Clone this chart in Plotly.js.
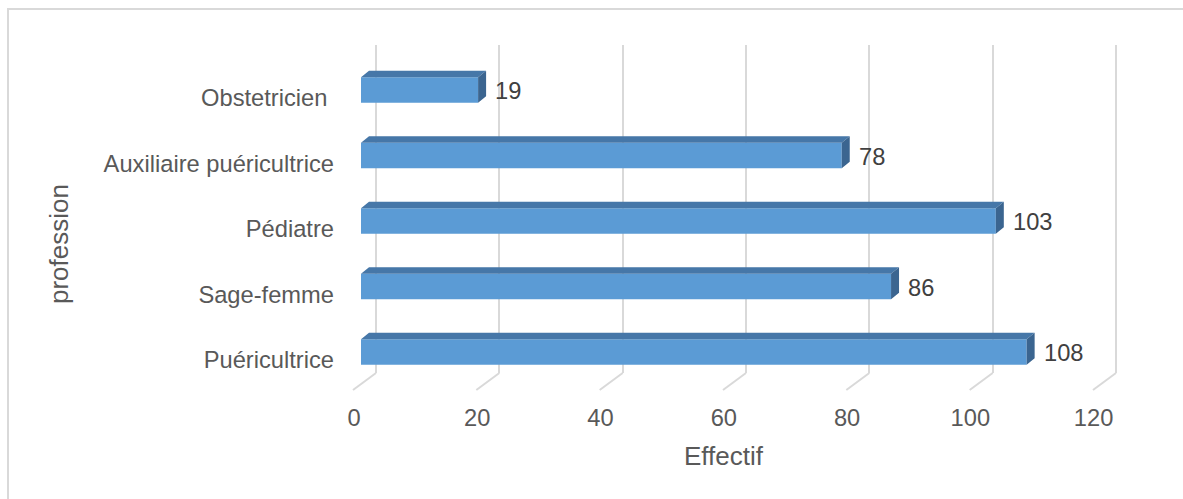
<!DOCTYPE html>
<html>
<head>
<meta charset="utf-8">
<script src="https://cdn.plot.ly/plotly-3.0.1.min.js"></script>
<style>
  html, body { margin: 0; padding: 0; background: #ffffff; }
  #chart { width: 1183px; height: 499px; }
</style>
</head>
<body>
<div id="chart"></div>
<script>
// Effectif par profession (bottom to top)
const professions = ['Puéricultrice', 'Sage-femme', 'Pédiatre', 'Auxiliaire puéricultrice', 'Obstetricien '];
const effectifs = [108, 86, 103, 78, 19];
const xTicks = [0, 20, 40, 60, 80, 100, 120];

const W = 1183, H = 499;
const TXT = '#595959';
const GRID = '#d9d9d9';
const FONT = 'Liberation Sans, Arial, sans-serif';

// Front plane (bars) and back wall (gridlines) geometry in pixels
const front = { x0: 361, x1: 1100.6, yTop: 57.25, yBot: 384.75 };
const back = { x0: 376, x1: 1116, yTop: 45, yBot: 373 };
const xMax = 120;
const pxPerUnit = (front.x1 - front.x0) / xMax;
const pxPerCat = (front.yBot - front.yTop) / professions.length;

// the back-wall axis is padded so its edge gridlines and floor lines are not clipped
const pad = 5;
const backPx = (back.x1 - back.x0) / xMax;

// Depth of each bar (top and side faces), in pixels
const depthX = 8, depthY = 6.5;
const dxU = depthX / pxPerUnit;
const dyU = depthY / pxPerCat;
const barW = 0.39, half = barW / 2;

const idx = professions.map((_, i) => i);

// Top and side faces of the 3D bars, built from the values
const topX = [], topY = [], sideX = [], sideY = [];
effectifs.forEach((v, i) => {
  const yt = i + half, yb = i - half;
  topX.push(0, dxU, v + dxU, v, 0, null);
  topY.push(yt, yt + dyU, yt + dyU, yt, yt, null);
  sideX.push(v, v + dxU, v + dxU, v, v, null);
  sideY.push(yt, yt + dyU, yb + dyU, yb, yt, null);
});

const traces = [
  // back wall subplot (holds only the gridlines)
  { type: 'scatter', x: [], y: [], xaxis: 'x', yaxis: 'y', hoverinfo: 'skip', showlegend: false },
  { type: 'scatter', mode: 'none', x: topX, y: topY, fill: 'toself', fillcolor: '#4677a8',
    xaxis: 'x2', yaxis: 'y2', hoverinfo: 'skip', showlegend: false },
  { type: 'scatter', mode: 'none', x: sideX, y: sideY, fill: 'toself', fillcolor: '#3b6590',
    xaxis: 'x2', yaxis: 'y2', hoverinfo: 'skip', showlegend: false },
  { type: 'bar', orientation: 'h', x: effectifs, y: idx, width: barW,
    marker: { color: '#5b9bd5', line: { width: 0 } },
    xaxis: 'x2', yaxis: 'y2', hoverinfo: 'skip', showlegend: false }
];

// floor lines from the foot of each gridline towards the front labels
const floorDx = 23 / backPx;
const shapes = xTicks.map(t => ({
  type: 'line', xref: 'x', yref: 'paper',
  x0: t, x1: t - floorDx,
  y0: 1 - back.yBot / H, y1: 1 - (back.yBot + 17) / H,
  line: { color: GRID, width: 2 }
}));
// chart area border
shapes.push({
  type: 'rect', xref: 'paper', yref: 'paper',
  x0: 8 / W, x1: 1.02, y0: -0.05, y1: 1 - 9 / H,
  line: { color: GRID, width: 2 }, fillcolor: 'rgba(0,0,0,0)'
});

const annotations = effectifs.map((v, i) => ({
  xref: 'x2', yref: 'y2', x: v, y: i, text: String(v),
  xanchor: 'left', yanchor: 'middle', xshift: 15, yshift: -1, showarrow: false,
  font: { family: FONT, size: 23.7, color: '#404040' }
}));
annotations.push({
  xref: 'paper', yref: 'paper', x: 723.8 / W, y: 1 - 456 / H, text: 'Effectif',
  xanchor: 'center', yanchor: 'middle', showarrow: false,
  font: { family: FONT, size: 26, color: TXT }
});
annotations.push({
  xref: 'paper', yref: 'paper', x: 59 / W, y: 1 - 244 / H, text: 'profession',
  textangle: -90, xanchor: 'center', yanchor: 'middle', showarrow: false,
  font: { family: FONT, size: 26, color: TXT }
});

const layout = {
  width: W, height: H,
  margin: { l: 0, r: 0, t: 0, b: 0 },
  paper_bgcolor: '#ffffff', plot_bgcolor: 'rgba(0,0,0,0)',
  font: { family: FONT, color: TXT },
  showlegend: false,
  xaxis: {
    domain: [(back.x0 - pad * backPx) / W, (back.x1 + pad * backPx) / W],
    range: [-pad, xMax + pad], anchor: 'y',
    tickvals: xTicks, showgrid: true, gridcolor: GRID, gridwidth: 2,
    zeroline: false, showline: false, showticklabels: false, ticks: '', fixedrange: true
  },
  yaxis: {
    domain: [1 - back.yBot / H, 1 - back.yTop / H], range: [0, 1], anchor: 'x',
    showgrid: false, zeroline: false, showline: false, showticklabels: false, ticks: '', fixedrange: true
  },
  xaxis2: {
    domain: [front.x0 / W, front.x1 / W], range: [0, xMax], anchor: 'y2',
    tickvals: xTicks, ticktext: xTicks.map(String),
    showgrid: false, zeroline: false, showline: false, ticks: '',
    ticklabelshift: -7, ticklabelstandoff: 17,
    tickfont: { family: FONT, size: 23.7, color: TXT }, fixedrange: true
  },
  yaxis2: {
    domain: [1 - front.yBot / H, 1 - front.yTop / H], range: [-0.5, professions.length - 0.5], anchor: 'x2',
    tickvals: idx, ticktext: professions.map(p => p.replace(/ $/, '\u00a0')),
    showgrid: false, zeroline: false, showline: false, ticks: '',
    ticklabelshift: 8, ticklabelstandoff: 26,
    tickfont: { family: FONT, size: 23.7, color: TXT }, fixedrange: true
  },
  shapes: shapes,
  annotations: annotations
};

Plotly.newPlot('chart', traces, layout, { staticPlot: true, displayModeBar: false });
</script>
</body>
</html>
